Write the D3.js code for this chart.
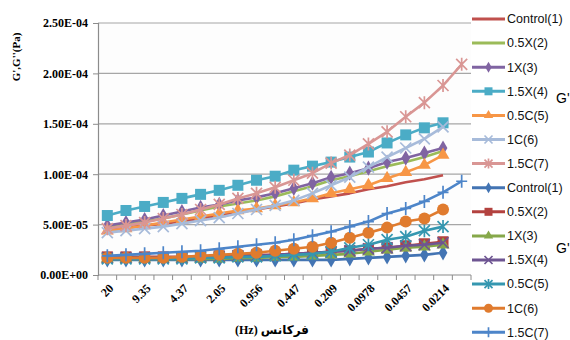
<!DOCTYPE html>
<html><head><meta charset="utf-8">
<script src="https://cdn.jsdelivr.net/npm/d3@7"></script>
<style>body{margin:0;background:#fff}svg{display:block}</style>
</head><body>
<svg id="c" width="570" height="340"></svg>
<script>
// Frequencies (Hz), one per category
const categories = ["20","13.7","9.35","6.39","4.37","2.99","2.05","1.40","0.956","0.654","0.447","0.306","0.209","0.143","0.0978","0.0669","0.0457","0.0313","0.0214","0.0146"];
const yTickValues = [0, 5, 10, 15, 20, 25]; // units of 1e-5 Pa
const yTickLabels = ["0.00E+00","5.00E-05","1.00E-04","1.50E-04","2.00E-04","2.50E-04"];
const seriesNames = ["Control(1)","0.5X(2)","1X(3)","1.5X(4)","0.5C(5)","1C(6)","1.5C(7)"];
// G' values (x1e-5 Pa)
const gp_control = [4.5,4.7,4.9,5.1,5.3,5.6,5.9,6.2,6.5,6.8,7.1,7.5,7.8,8.1,8.5,8.8,9.2,9.5,9.9];
const gp_05X = [4.7,5.0,5.3,5.6,6.0,6.4,6.8,7.1,7.4,7.8,8.3,8.8,9.4,9.8,10.3,10.8,11.2,11.7,12.3];
const gp_1X = [4.9,5.2,5.5,5.9,6.3,6.7,7.0,7.4,7.7,8.1,8.6,9.1,9.7,10.1,10.6,11.2,11.6,12.1,12.6];
const gp_15X = [5.9,6.4,6.8,7.2,7.6,8.0,8.4,8.9,9.4,9.8,10.4,10.8,11.2,11.7,12.2,13.1,13.9,14.6,15.1];
const gp_05C = [4.4,4.6,4.9,5.2,5.5,5.8,6.1,6.4,6.6,6.9,7.2,7.6,8.1,8.5,8.9,9.6,10.2,10.9,11.9];
const gp_1C = [4.2,4.4,4.6,4.8,5.1,5.4,5.7,6.1,6.5,6.9,7.4,8.1,8.9,9.7,10.7,11.7,12.6,13.5,14.7];
const gp_15C = [4.6,4.9,5.2,5.6,6.0,6.5,7.0,7.6,8.1,8.7,9.4,10.1,11.1,11.9,13.0,14.2,15.7,17.1,18.8,20.9];
// G'' values (x1e-5 Pa)
const gpp_control = [1.5,1.5,1.5,1.5,1.5,1.5,1.5,1.5,1.5,1.5,1.5,1.5,1.5,1.6,1.7,1.8,1.9,2.0,2.2];
const gpp_05X = [1.8,1.8,1.8,1.8,1.8,1.8,1.9,1.9,2.0,2.0,2.1,2.2,2.3,2.4,2.6,2.7,2.9,3.1,3.3];
const gpp_1X = [1.6,1.6,1.6,1.6,1.6,1.6,1.6,1.7,1.7,1.8,1.8,1.9,2.0,2.1,2.3,2.5,2.7,2.8,3.0];
const gpp_15X = [1.7,1.7,1.7,1.7,1.7,1.8,1.8,1.9,1.9,2.0,2.1,2.2,2.3,2.4,2.6,2.7,2.9,3.0,3.2];
const gpp_05C = [1.6,1.6,1.6,1.6,1.6,1.7,1.7,1.8,1.8,1.9,2.0,2.1,2.3,2.7,3.0,3.5,3.8,4.4,4.8];
const gpp_1C = [1.7,1.7,1.7,1.7,1.8,1.9,2.0,2.1,2.2,2.4,2.6,2.8,3.2,3.7,4.2,4.7,5.3,5.6,6.5];
const gpp_15C = [1.9,2.0,2.1,2.2,2.3,2.4,2.6,2.8,3.0,3.2,3.5,3.9,4.3,4.8,5.3,6.1,6.6,7.3,8.2,9.3];

const series = [
  {name:seriesNames[0], values:gp_control, color:"#C0504D", marker:"none"},
  {name:seriesNames[1], values:gp_05X, color:"#9BBB59", marker:"none"},
  {name:seriesNames[2], values:gp_1X, color:"#8064A2", marker:"diamond"},
  {name:seriesNames[3], values:gp_15X, color:"#4BACC6", marker:"square"},
  {name:seriesNames[4], values:gp_05C, color:"#F79646", marker:"triangle"},
  {name:seriesNames[5], values:gp_1C, color:"#A7BBDA", marker:"x"},
  {name:seriesNames[6], values:gp_15C, color:"#D99694", marker:"star"},
  {name:seriesNames[0], values:gpp_control, color:"#4374B3", marker:"diamond"},
  {name:seriesNames[1], values:gpp_05X, color:"#B3423F", marker:"square"},
  {name:seriesNames[2], values:gpp_1X, color:"#86A84A", marker:"triangle"},
  {name:seriesNames[3], values:gpp_15X, color:"#6E5592", marker:"x"},
  {name:seriesNames[4], values:gpp_05C, color:"#3597B0", marker:"star"},
  {name:seriesNames[5], values:gpp_1C, color:"#E07B2E", marker:"circle"},
  {name:seriesNames[6], values:gpp_15C, color:"#4D85C9", marker:"plus"}
];

const svg = d3.select("#c");
const x = d3.scaleBand().domain(categories).range([98, 471]).padding(0);
const y = d3.scaleLinear().domain([0, 25]).range([275, 23]);
const cx = i => x(categories[i]) + x.bandwidth()/2;

// plot background
svg.append("rect").attr("x",98).attr("y",23).attr("width",373).attr("height",252).attr("fill","#fdfdfd");

// gridlines
svg.append("g").selectAll("line").data(yTickValues.slice(1)).join("line")
  .attr("x1",98).attr("x2",471).attr("y1",d=>y(d)).attr("y2",d=>y(d))
  .attr("stroke","#a6a6a6").attr("stroke-width",1.2);

// y axis
const yAxis = d3.axisLeft(y).tickValues(yTickValues).tickSize(5)
  .tickFormat((d,i)=>yTickLabels[i]);
const gy = svg.append("g").attr("transform","translate(98,0)").call(yAxis);
gy.select(".domain").attr("stroke","#8c8c8c").attr("stroke-width",1.2);
gy.selectAll(".tick line").attr("stroke","#8c8c8c");
gy.selectAll(".tick text").attr("font-family","'Liberation Serif',serif").attr("font-weight","bold")
  .attr("font-size",12).attr("fill","#000").attr("x",-10);

// x axis: boundary ticks
const gx = svg.append("g");
gx.append("line").attr("x1",98).attr("x2",471).attr("y1",275).attr("y2",275).attr("stroke","#8c8c8c").attr("stroke-width",1.2);
const bounds = categories.map(c=>x(c)).concat([x.range()[1]]);
gx.selectAll("line.t").data(bounds).join("line").attr("class","t")
  .attr("x1",d=>d).attr("x2",d=>d).attr("y1",275).attr("y2",280).attr("stroke","#8c8c8c");
gx.selectAll("text").data(categories.map((c,i)=>({c,i})).filter(d=>d.i%2===0)).join("text")
  .attr("transform",d=>`translate(${cx(d.i)+4},286) rotate(-45)`)
  .attr("text-anchor","end").attr("dy","0.35em")
  .attr("font-family","'Liberation Serif',serif").attr("font-weight","bold").attr("font-size",12)
  .text(d=>d.c);

// axis titles
svg.append("text").attr("transform","translate(20,57) rotate(-90)").attr("text-anchor","middle")
  .attr("font-family","'Liberation Serif',serif").attr("font-weight","bold").attr("font-size",11)
  .text("G',G''(Pa)");
svg.append("text").attr("x",272).attr("y",334).attr("text-anchor","middle")
  .attr("font-family","'Liberation Serif','DejaVu Sans',serif").attr("font-weight","bold").attr("font-size",12)
  .text("(Hz) فرکانس");

// markers
function drawMarker(g, type, color, px, py, s) {
  s = s || 10;
  const h = s/2;
  if (type === "diamond") {
    g.append("path").attr("d", d3.symbol(d3.symbolDiamond, s*s*0.55)()).attr("transform",`translate(${px},${py})`).attr("fill",color);
  } else if (type === "square") {
    g.append("rect").attr("x",px-h).attr("y",py-h).attr("width",s).attr("height",s).attr("fill",color);
  } else if (type === "triangle") {
    g.append("path").attr("d", d3.symbol(d3.symbolTriangle, s*s*0.6)()).attr("transform",`translate(${px},${py})`).attr("fill",color);
  } else if (type === "circle") {
    g.append("circle").attr("cx",px).attr("cy",py).attr("r",h+0.5).attr("fill",color);
  } else if (type === "x" || type === "star" || type === "plus") {
    const p = [];
    if (type !== "plus") { p.push(`M${px-h},${py-h}L${px+h},${py+h}`, `M${px-h},${py+h}L${px+h},${py-h}`); }
    if (type !== "x") { p.push(`M${px},${py-h-1}L${px},${py+h+1}`); }
    if (type === "plus") { p.push(`M${px-h},${py}L${px+h},${py}`); }
    g.append("path").attr("d",p.join("")).attr("stroke",color).attr("stroke-width",1.7).attr("fill","none");
  }
}

const line = d3.line().x((d,i)=>cx(i)).y(d=>y(d));
series.forEach(s => {
  const g = svg.append("g");
  g.append("path").datum(s.values).attr("d",line).attr("fill","none")
    .attr("stroke",s.color).attr("stroke-width",2.6).attr("stroke-linejoin","round");
  s.values.forEach((v,i)=>drawMarker(g, s.marker, s.color, cx(i), y(v), 11));
});

// legend
const lg = svg.append("g");
series.forEach((s,k) => {
  const ly = 19 + k*24.1;
  lg.append("line").attr("x1",472).attr("x2",505).attr("y1",ly).attr("y2",ly).attr("stroke",s.color).attr("stroke-width",3);
  drawMarker(lg, s.marker, s.color, 488.5, ly, 8);
  lg.append("text").attr("x",507).attr("y",ly).attr("dy","0.35em")
    .attr("font-family","'Liberation Sans',sans-serif").attr("font-size",12.5).attr("fill","#111").text(s.name);
});
svg.append("text").attr("x",556).attr("y",103).attr("font-family","'Liberation Sans',sans-serif").attr("font-size",14).text("G'");
svg.append("text").attr("x",556).attr("y",253).attr("font-family","'Liberation Sans',sans-serif").attr("font-size",14).text("G'");
</script>
</body></html>
